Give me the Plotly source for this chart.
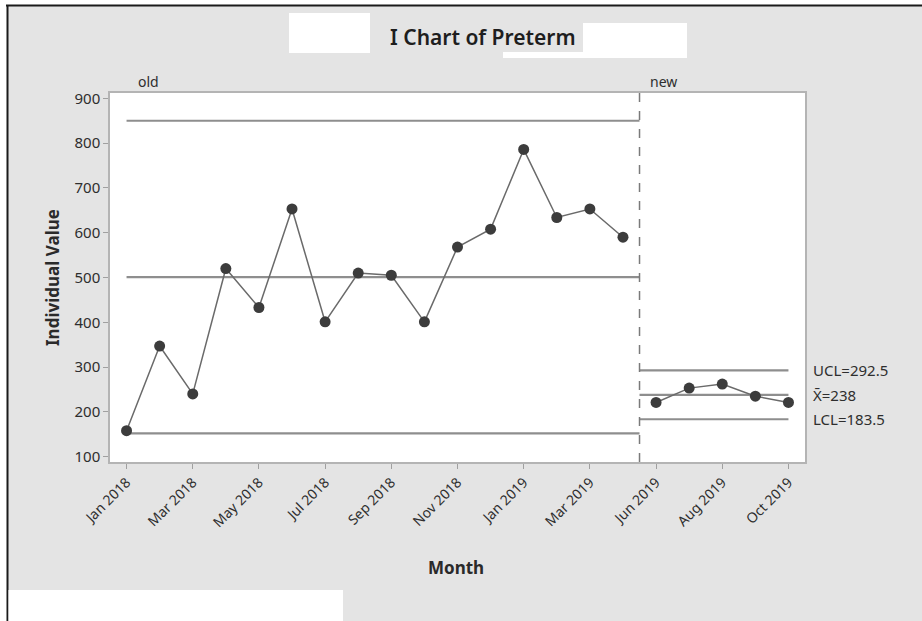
import plotly.graph_objects as go

# ---------------- data ----------------
months = ["Jan 2018", "Feb 2018", "Mar 2018", "Apr 2018", "May 2018", "Jun 2018",
          "Jul 2018", "Aug 2018", "Sep 2018", "Oct 2018", "Nov 2018", "Dec 2018",
          "Jan 2019", "Feb 2019", "Mar 2019", "Apr 2019",
          "Jun 2019", "Jul 2019", "Aug 2019", "Sep 2019", "Oct 2019"]
stage = ["old"] * 16 + ["new"] * 5
preterm = [158, 347, 240, 520, 433, 653, 401, 510, 505, 401, 568, 608,
           786, 634, 653, 590,
           221, 253, 262, 235, 221]

old_ucl, old_cl, old_lcl = 850, 501, 152
new_ucl, new_cl, new_lcl = 292.5, 238, 183.5

y_ticks = [100, 200, 300, 400, 500, 600, 700, 800, 900]

# ---------------- layout helpers ----------------
W, H = 922, 621
L, R, T, B = 110, 805, 93, 462   # plot area in pixels


def px(x):
    return (x - L) / (R - L)


def py(y):
    return (B - y) / (B - T)


idx = list(range(len(months)))
old_idx = [i for i, s in enumerate(stage) if s == "old"]
new_idx = [i for i, s in enumerate(stage) if s == "new"]
split = (old_idx[-1] + new_idx[0]) / 2

font_fam = "Noto Sans, Open Sans, sans-serif"
text_col = "#2e2e2e"
limit_col = "#8e8e8e"

fig = go.Figure()

# control limit lines
for lo, hi, vals in [(old_idx[0], split, (old_ucl, old_cl, old_lcl)),
                     (split, new_idx[-1], (new_ucl, new_cl, new_lcl))]:
    for v in vals:
        fig.add_trace(go.Scatter(x=[lo, hi], y=[v, v], mode="lines",
                                 line=dict(color=limit_col, width=2.2),
                                 hoverinfo="skip", showlegend=False))

# data series (line broken between stages)
for ids in (old_idx, new_idx):
    fig.add_trace(go.Scatter(x=ids, y=[preterm[i] for i in ids],
                             mode="lines+markers",
                             line=dict(color="#6a6a6a", width=1.5),
                             marker=dict(color="#3c3c3c", size=11, symbol="circle"),
                             text=[months[i] for i in ids],
                             showlegend=False))

tick_idx = idx[::2]
tick_text = [months[i] for i in tick_idx]

shapes = [
    # stage divider
    dict(type="line", xref="x", yref="paper", x0=split, x1=split, y0=0, y1=1.015,
         line=dict(color="#7a7a7a", width=1.5, dash="dash")),
    # screenshot frame: white margins and dark border
    dict(type="rect", xref="paper", yref="paper", x0=px(0), x1=px(7), y0=py(W), y1=py(0),
         fillcolor="white", line=dict(width=0), layer="below"),
    dict(type="rect", xref="paper", yref="paper", x0=px(0), x1=px(W), y0=py(5), y1=py(0),
         fillcolor="white", line=dict(width=0), layer="below"),
    dict(type="line", xref="paper", yref="paper", x0=px(6), x1=px(W), y0=py(5.5), y1=py(5.5),
         line=dict(color="#1a1a1a", width=2)),
    dict(type="line", xref="paper", yref="paper", x0=px(7.5), x1=px(7.5), y0=py(5), y1=py(H),
         line=dict(color="#1a1a1a", width=2)),
    # redaction boxes
    dict(type="rect", xref="paper", yref="paper", x0=px(289), x1=px(370), y0=py(53), y1=py(13),
         fillcolor="white", line=dict(width=0)),
    dict(type="rect", xref="paper", yref="paper", x0=px(503), x1=px(687), y0=py(58), y1=py(23),
         fillcolor="white", line=dict(width=0)),
    dict(type="rect", xref="paper", yref="paper", x0=px(370), x1=px(583), y0=py(52), y1=py(13),
         fillcolor="#e4e4e4", line=dict(width=0)),
    dict(type="rect", xref="paper", yref="paper", x0=px(8.5), x1=px(343), y0=py(H), y1=py(590),
         fillcolor="white", line=dict(width=0)),
]

annotations = [
    dict(text="I Chart of Preterm", xref="paper", yref="paper", x=px(483), y=py(37),
         showarrow=False, font=dict(family=font_fam, size=21, color="#1e1e1e", weight=600),
         xanchor="center", yanchor="middle"),
    dict(text="old", xref="x", yref="paper", x=0.3, y=py(82), showarrow=False,
         xanchor="left", yanchor="middle", font=dict(family=font_fam, size=14, color=text_col)),
    dict(text="new", xref="x", yref="paper", x=split + 0.25, y=py(82), showarrow=False,
         xanchor="left", yanchor="middle", font=dict(family=font_fam, size=14, color=text_col)),
    dict(text="Individual Value", xref="paper", yref="paper", x=px(52), y=py(277),
         showarrow=False, textangle=-90, xanchor="center", yanchor="middle",
         font=dict(family=font_fam, size=17, color="#2a2a2a", weight="bold")),
    dict(text="Month", xref="paper", yref="paper", x=px(456), y=py(567),
         showarrow=False, xanchor="center", yanchor="middle",
         font=dict(family=font_fam, size=17, color="#2a2a2a", weight="bold")),
]
for lbl, v in [(f"UCL={new_ucl}", new_ucl), (f"X\u0304={new_cl}", new_cl), (f"LCL={new_lcl}", new_lcl)]:
    annotations.append(dict(text=lbl, xref="paper", yref="y", x=px(811), y=v,
                            showarrow=False, xanchor="left", yanchor="middle",
                            font=dict(family=font_fam, size=15, color=text_col)))

fig.update_layout(
    width=W, height=H,
    margin=dict(l=L, r=W - R, t=T, b=H - B, pad=0),
    paper_bgcolor="#e4e4e4",
    plot_bgcolor="white",
    font=dict(family=font_fam, color=text_col),
    shapes=shapes,
    annotations=annotations,
    xaxis=dict(range=[-0.5, 20.5], tickvals=tick_idx, ticktext=tick_text,
               tickangle=-45, ticks="outside", ticklen=5, tickcolor="#a0a0a0",
               showline=True, linecolor="#b4b4b4", linewidth=1.5, mirror=True,
               showgrid=False, zeroline=False,
               tickfont=dict(family=font_fam, size=14, color=text_col)),
    yaxis=dict(range=[88, 912], tickvals=y_ticks, ticks="outside", ticklen=5,
               tickcolor="#a0a0a0", showline=True, linecolor="#b4b4b4", linewidth=1.5,
               mirror=True, showgrid=False, zeroline=False,
               tickfont=dict(family=font_fam, size=15, color=text_col)),
)

fig.write_html("out.html",
               config={"displayModeBar": False},
               post_script="document.body.style.margin='0';document.body.style.padding='0';")
